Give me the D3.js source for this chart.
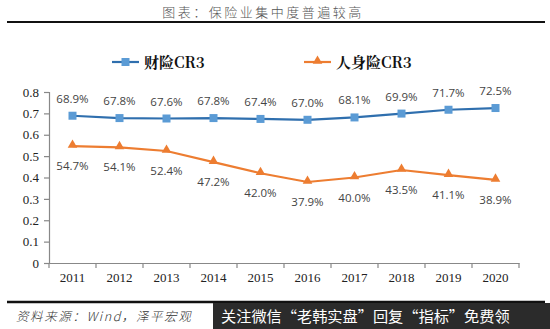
<!DOCTYPE html>
<html>
<head>
<meta charset="utf-8">
<script src="https://cdn.jsdelivr.net/npm/d3@7"></script>
<style>
  html, body { margin: 0; padding: 0; background: #fff; }
  svg { display: block; }
</style>
</head>
<body>
<svg id="chart" width="550" height="329"></svg>
<script>
// Concentration ratio (top-3 share) of property and life insurers, 2011-2020
const years = ["2011", "2012", "2013", "2014", "2015", "2016", "2017", "2018", "2019", "2020"];
const propertyCR3 = [0.689, 0.678, 0.676, 0.678, 0.674, 0.670, 0.681, 0.699, 0.717, 0.725];
const lifeCR3 = [0.547, 0.541, 0.524, 0.472, 0.420, 0.379, 0.400, 0.435, 0.411, 0.389];
const seriesNames = ["财险CR3", "人身险CR3"];
const yTicks = [0, 0.1, 0.2, 0.3, 0.4, 0.5, 0.6, 0.7, 0.8];

const svg = d3.select("#chart");
const cjk = "'Noto Sans CJK SC', sans-serif";
const serif = "'Liberation Serif', 'Times New Roman', serif";
const BLUE_LINE = "#2f6fae", BLUE_MARK = "#5b9bd5", ORANGE = "#ed7d31";

// Title and rules
svg.append("text").attr("x", 263).attr("y", 17).attr("text-anchor", "middle")
  .attr("font-family", cjk).attr("font-size", 13).attr("font-weight", 300)
  .attr("fill", "#555").attr("letter-spacing", 2.5).text("图表：保险业集中度普遍较高");
svg.append("line").attr("x1", 7).attr("x2", 545).attr("y1", 22).attr("y2", 22)
  .attr("stroke", "#111").attr("stroke-width", 2);

const x = d3.scaleBand().domain(years).range([49, 519]);
const y = d3.scaleLinear().domain([0, 0.8]).range([263, 92]);

// Axes
const yAxis = d3.axisLeft(y).tickValues(yTicks).tickSize(5).tickFormat(d => d === 0 ? "0" : d3.format(".1f")(d));
const gy = svg.append("g").attr("transform", "translate(49,0)").call(yAxis);
const xAxis = d3.axisBottom(x).tickSize(0).tickPadding(10);
const gx = svg.append("g").attr("transform", "translate(0,263)").call(xAxis);
[gy, gx].forEach(g => {
  g.select(".domain").attr("stroke", "#888").attr("stroke-width", 1.2);
  g.selectAll(".tick line").attr("stroke", "#888").attr("stroke-width", 1.2);
  g.selectAll("text").attr("font-family", serif).attr("font-size", 13).attr("fill", "#222");
});
gy.selectAll("text").attr("dx", -2);
// category boundary ticks on the x axis
svg.append("g").selectAll("line").data(d3.range(years.length + 1)).join("line")
  .attr("x1", i => 49 + i * x.step()).attr("x2", i => 49 + i * x.step())
  .attr("y1", 263).attr("y2", 268).attr("stroke", "#888").attr("stroke-width", 1.2);

const cx = d => x(d) + x.bandwidth() / 2;
const line = d3.line().x((d, i) => cx(years[i])).y(d => y(d));

// Life insurance series (orange, triangles)
svg.append("path").datum(lifeCR3).attr("d", line).attr("fill", "none")
  .attr("stroke", ORANGE).attr("stroke-width", 2.2);
svg.append("g").selectAll("path").data(lifeCR3).join("path")
  .attr("d", d3.symbol(d3.symbolTriangle, 40))
  .attr("transform", (d, i) => `translate(${cx(years[i])},${y(d) - 1})`)
  .attr("fill", ORANGE);
svg.append("g").selectAll("text").data(lifeCR3).join("text")
  .attr("x", (d, i) => cx(years[i])).attr("y", d => y(d) + 24)
  .attr("text-anchor", "middle").attr("font-family", "'Open Sans', sans-serif")
  .attr("font-size", 11.5).attr("fill", "#444").text(d => d3.format(".1%")(d));

// Property insurance series (blue, squares)
svg.append("path").datum(propertyCR3).attr("d", line).attr("fill", "none")
  .attr("stroke", BLUE_LINE).attr("stroke-width", 2.2);
svg.append("g").selectAll("rect").data(propertyCR3).join("rect")
  .attr("x", (d, i) => cx(years[i]) - 4).attr("y", d => y(d) - 4)
  .attr("width", 8).attr("height", 8).attr("fill", BLUE_MARK);
svg.append("g").selectAll("text").data(propertyCR3).join("text")
  .attr("x", (d, i) => cx(years[i])).attr("y", d => y(d) - 13)
  .attr("text-anchor", "middle").attr("font-family", "'Open Sans', sans-serif")
  .attr("font-size", 11.5).attr("fill", "#444").text(d => d3.format(".1%")(d));

// Legend
const legend = [
  { name: seriesNames[0], x0: 112, color: BLUE_LINE, mark: BLUE_MARK, shape: "square" },
  { name: seriesNames[1], x0: 304, color: ORANGE, mark: ORANGE, shape: "triangle" }
];
legend.forEach(l => {
  svg.append("line").attr("x1", l.x0).attr("x2", l.x0 + 27).attr("y1", 62).attr("y2", 62)
    .attr("stroke", l.color).attr("stroke-width", 2.2);
  if (l.shape === "square") {
    svg.append("rect").attr("x", l.x0 + 9.5).attr("y", 58).attr("width", 8).attr("height", 8).attr("fill", l.mark);
  } else {
    svg.append("path").attr("d", d3.symbol(d3.symbolTriangle, 40)).attr("transform", `translate(${l.x0 + 13.5},61)`).attr("fill", l.mark);
  }
  svg.append("text").attr("x", l.x0 + 32).attr("y", 67.5)
    .attr("font-family", "'Noto Serif CJK SC', 'Noto Sans CJK SC', serif").attr("font-weight", 700)
    .attr("font-size", 15).attr("fill", "#111").text(l.name);
});

// Footer
svg.append("line").attr("x1", 7).attr("x2", 545).attr("y1", 302).attr("y2", 302)
  .attr("stroke", "#111").attr("stroke-width", 2.5);
svg.append("text").attr("x", 16).attr("y", 321).attr("font-family", cjk)
  .attr("font-size", 12.5).attr("font-style", "italic").attr("font-weight", 300)
  .attr("letter-spacing", 1.6).attr("fill", "#333")
  .text("资料来源：Wind，泽平宏观");
svg.append("rect").attr("x", 213).attr("y", 303).attr("width", 337).attr("height", 26).attr("fill", "#2b2b2b");
svg.append("text").attr("x", 221).attr("y", 322).attr("font-family", cjk)
  .attr("font-size", 15.2).attr("fill", "#fff").text("关注微信“老韩实盘”回复“指标”免费领");
</script>
</body>
</html>
